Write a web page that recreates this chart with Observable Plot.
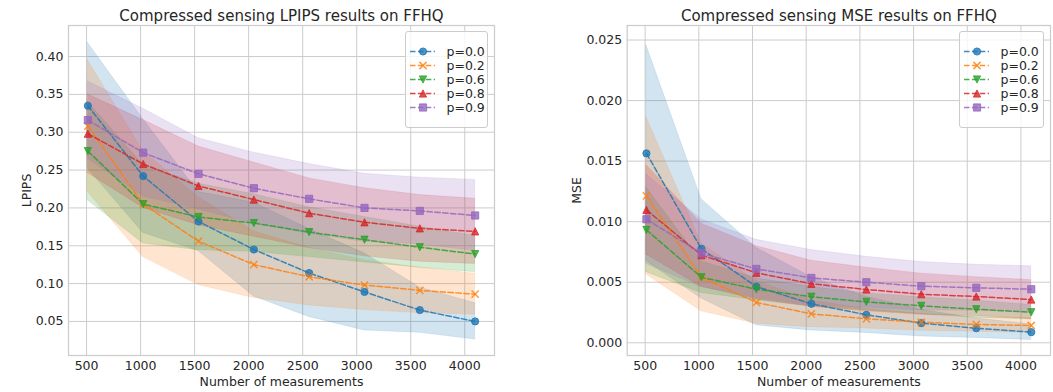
<!DOCTYPE html>
<html><head><meta charset="utf-8">
<script src="https://cdn.jsdelivr.net/npm/d3@7"></script>
<script src="https://cdn.jsdelivr.net/npm/@observablehq/plot@0.6"></script>
<style>
body{margin:0;background:#fff;font-family:'DejaVu Sans',sans-serif;}
#wrap{display:flex;width:1053px;height:392px;overflow:hidden;}
.panel{position:relative;}
.legend{position:absolute;border:1px solid #cccccc;border-radius:3px;background:rgba(255,255,255,0.8);line-height:0;}
</style></head><body><div id="wrap"></div><script>
// ---------------- data ----------------
const measurements = [512, 1024, 1536, 2048, 2560, 3072, 3584, 4096];
const seriesNames = ["p=0.0", "p=0.2", "p=0.6", "p=0.8", "p=0.9"];
const seriesColors = ["#1f77b4", "#ff7f0e", "#2ca02c", "#d62728", "#9467bd"];
const xTicks = [500, 1000, 1500, 2000, 2500, 3000, 3500, 4000];
const lpipsTicks = [0.05, 0.10, 0.15, 0.20, 0.25, 0.30, 0.35, 0.40];
const mseTicks = [0.000, 0.005, 0.010, 0.015, 0.020, 0.025];

// LPIPS means
const lpips_p00 = [0.335, 0.242, 0.182, 0.145, 0.114, 0.089, 0.065, 0.050];
const lpips_p02 = [0.308, 0.205, 0.156, 0.125, 0.109, 0.098, 0.091, 0.086];
const lpips_p06 = [0.275, 0.205, 0.188, 0.180, 0.168, 0.158, 0.148, 0.139];
const lpips_p08 = [0.298, 0.258, 0.229, 0.211, 0.193, 0.181, 0.173, 0.169];
const lpips_p09 = [0.316, 0.273, 0.245, 0.226, 0.212, 0.200, 0.196, 0.190];
// LPIPS spread (half-width of shaded band)
const lpips_p00_sd = [0.083, 0.075, 0.039, 0.062, 0.058, 0.051, 0.030, 0.024];
const lpips_p02_sd = [0.087, 0.070, 0.058, 0.044, 0.038, 0.033, 0.030, 0.027];
const lpips_p06_sd = [0.065, 0.052, 0.044, 0.038, 0.033, 0.030, 0.027, 0.024];
const lpips_p08_sd = [0.052, 0.058, 0.052, 0.049, 0.046, 0.045, 0.044, 0.043];
const lpips_p09_sd = [0.051, 0.058, 0.047, 0.047, 0.046, 0.045, 0.044, 0.047];

// MSE means
const mse_p00 = [0.01564, 0.00776, 0.00464, 0.00322, 0.00231, 0.00162, 0.00120, 0.00088];
const mse_p02 = [0.01213, 0.00540, 0.00333, 0.00239, 0.00198, 0.00170, 0.00151, 0.00143];
const mse_p06 = [0.00932, 0.00541, 0.00442, 0.00380, 0.00338, 0.00305, 0.00277, 0.00252];
const mse_p08 = [0.01097, 0.00723, 0.00578, 0.00487, 0.00440, 0.00401, 0.00382, 0.00357];
const mse_p09 = [0.01020, 0.00739, 0.00610, 0.00536, 0.00500, 0.00467, 0.00454, 0.00442];
// MSE spread
const mse_p00_sd = [0.0089, 0.0041, 0.0032, 0.0022, 0.0015, 0.0011, 0.0008, 0.00065];
const mse_p02_sd = [0.0065, 0.0028, 0.00176, 0.0011, 0.0008, 0.0007, 0.0006, 0.0006];
const mse_p06_sd = [0.0035, 0.0013, 0.0009, 0.0008, 0.0007, 0.0007, 0.0007, 0.0006];
const mse_p08_sd = [0.0037, 0.0026, 0.0022, 0.0019, 0.0018, 0.0017, 0.0016, 0.0016];
const mse_p09_sd = [0.0037, 0.0028, 0.0024, 0.0023, 0.0021, 0.0020, 0.0019, 0.0019];

// ---------------- helpers ----------------
const FONT = "'DejaVu Sans', sans-serif";
const rad = s => Math.sqrt(s / Math.PI);
const symSquare = {draw(c, s) { const r = rad(s); c.rect(-r, -r, 2 * r, 2 * r); }};
const symTriUp = {draw(c, s) { const r = rad(s); c.moveTo(0, -r); c.lineTo(r, r); c.lineTo(-r, r); c.closePath(); }};
const symTriDown = {draw(c, s) { const r = rad(s); c.moveTo(0, r); c.lineTo(r, -r); c.lineTo(-r, -r); c.closePath(); }};
const symX = {draw(c, s) { const r = rad(s); c.moveTo(-r, -r); c.lineTo(r, r); c.moveTo(r, -r); c.lineTo(-r, r); }};
const seriesSymbols = ["circle", symX, symTriDown, symTriUp, symSquare];
const seriesHollow = [false, true, false, false, false];

function buildRows(means, sds) {
  return seriesNames.map((s, i) => measurements.map((m, j) => ({
    series: s, x: m, y: means[i][j], lo: means[i][j] - sds[i][j], hi: means[i][j] + sds[i][j]
  })));
}

const textColor = "#262626";
const gridColor = "#cccccc";

function seriesMarks(groups) {
  const areas = groups.map((g, i) => Plot.areaY(g, {x: "x", y1: "lo", y2: "hi", fill: seriesColors[i], fillOpacity: 0.2, stroke: seriesColors[i], strokeOpacity: 0.12, strokeWidth: 1}));
  const lines = groups.map((g, i) => Plot.line(g, {x: "x", y: "y", stroke: seriesColors[i], strokeWidth: 1.5, strokeDasharray: "5.5,2.4", strokeOpacity: 0.85}));
  const dots = groups.map((g, i) => Plot.dot(g, {
    x: "x", y: "y", symbol: seriesSymbols[i], r: 3.6,
    fill: seriesHollow[i] ? "none" : seriesColors[i], fillOpacity: 0.8,
    stroke: seriesColors[i], strokeOpacity: 0.8, strokeWidth: seriesHollow[i] ? 1.5 : 1
  }));
  return [...areas, ...lines, ...dots];
}

function chart({title, groups, yDomain, yTicks, yFormat, yLabel, yLabelOffset, width, marginLeft, marginRight}) {
  return Plot.plot({
    width, height: 392,
    marginLeft, marginRight, marginTop: 25, marginBottom: 37,
    style: {fontFamily: FONT, fontSize: "12.5px", color: textColor, background: "white", overflow: "visible"},
    x: {domain: [332.8, 4275.2]},
    y: {domain: yDomain},
    marks: [
      Plot.gridX(xTicks, {stroke: gridColor, strokeOpacity: 1, strokeWidth: 1}),
      Plot.gridY(yTicks, {stroke: gridColor, strokeOpacity: 1, strokeWidth: 1}),
      ...seriesMarks(groups),
      Plot.frame({stroke: gridColor, strokeWidth: 1.25}),
      Plot.axisX(xTicks, {tickSize: 0, tickPadding: 6, fontSize: 12.5, fill: textColor, tickFormat: d3.format("d"),
        label: "Number of measurements", labelAnchor: "center", labelOffset: 30, labelArrow: false}),
      Plot.axisY(yTicks, {tickSize: 0, tickPadding: 5, fontSize: 12.5, fill: textColor, tickFormat: d3.format(yFormat),
        label: yLabel, labelAnchor: "center", labelOffset: yLabelOffset, labelArrow: false}),
      Plot.text([title], {text: d => d, frameAnchor: "top", lineAnchor: "bottom", dy: -5, fontSize: 15, fill: textColor})
    ]
  });
}

function legend(w) {
  const rows = seriesNames.map((s, i) => ({s, i}));
  return Plot.plot({
    width: w, height: 95, margin: 0,
    style: {fontFamily: FONT, fontSize: "12.5px", color: textColor, background: "transparent"},
    x: {domain: [0, 1], range: [4, 29], axis: null},
    y: {type: "point", domain: seriesNames, range: [9.8, 84], axis: null},
    marks: [
      ...rows.map(r => Plot.ruleY([r], {y: d => d.s, x1: () => 0, x2: () => 1, stroke: seriesColors[r.i], strokeWidth: 1.5, strokeDasharray: "5.5,2.4", strokeOpacity: 0.85})),
      ...rows.map(r => Plot.dot([r], {x: () => 0.5, y: d => d.s, symbol: seriesSymbols[r.i], r: 3.6,
        fill: seriesHollow[r.i] ? "none" : seriesColors[r.i], fillOpacity: 0.8,
        stroke: seriesColors[r.i], strokeOpacity: 0.8, strokeWidth: seriesHollow[r.i] ? 1.5 : 1})),
      Plot.text(rows, {x: () => 1, y: d => d.s, text: d => d.s, dx: 11, textAnchor: "start", fontSize: 12.5, fill: textColor})
    ]
  });
}

const lpipsGroups = buildRows([lpips_p00, lpips_p02, lpips_p06, lpips_p08, lpips_p09],
  [lpips_p00_sd, lpips_p02_sd, lpips_p06_sd, lpips_p08_sd, lpips_p09_sd]);
const mseGroups = buildRows([mse_p00, mse_p02, mse_p06, mse_p08, mse_p09],
  [mse_p00_sd, mse_p02_sd, mse_p06_sd, mse_p08_sd, mse_p09_sd]);

const wrap = document.getElementById("wrap");

const p1 = document.createElement("div"); p1.className = "panel"; p1.style.width = "526px";
p1.appendChild(chart({title: "Compressed sensing LPIPS results on FFHQ", groups: lpipsGroups,
  yDomain: [0.005, 0.441], yTicks: lpipsTicks, yFormat: ".2f", yLabel: "LPIPS", yLabelOffset: 46,
  width: 526, marginLeft: 68, marginRight: 32}));
const l1 = document.createElement("div"); l1.className = "legend";
l1.style.left = "405px"; l1.style.top = "31px"; l1.style.width = "81px"; l1.style.height = "95px";
l1.appendChild(legend(81));
p1.appendChild(l1);
wrap.appendChild(p1);

const p2 = document.createElement("div"); p2.className = "panel"; p2.style.width = "527px";
p2.appendChild(chart({title: "Compressed sensing MSE results on FFHQ", groups: mseGroups,
  yDomain: [-0.00105, 0.0262], yTicks: mseTicks, yFormat: ".3f", yLabel: "MSE", yLabelOffset: 55,
  width: 527, marginLeft: 100.7, marginRight: 3}));
const l2 = document.createElement("div"); l2.className = "legend";
l2.style.left = "433px"; l2.style.top = "31px"; l2.style.width = "83px"; l2.style.height = "95px";
l2.appendChild(legend(83));
p2.appendChild(l2);
wrap.appendChild(p2);
</script></body></html>
